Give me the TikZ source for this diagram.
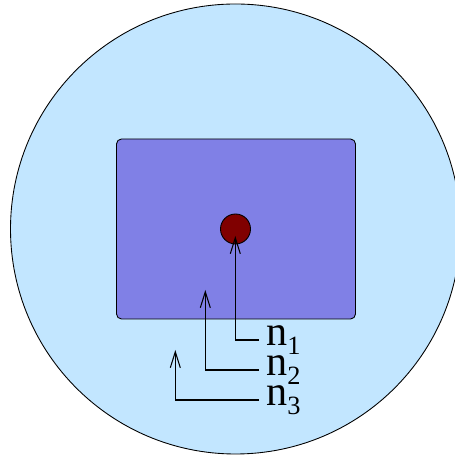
\documentclass[tikz,border=0pt]{standalone}
\usepackage{xcolor}
\usepackage{fontspec}
\usetikzlibrary{arrows.meta}

\newfontfamily\labelfont{Liberation Serif}
\newcommand{\idx}[1]{\raisebox{-0.2em}{\fontsize{15}{16}\selectfont #1}}

\definecolor{hellblau}{RGB}{194,230,255}
\definecolor{lila}{RGB}{128,128,230}
\definecolor{dunkelrot}{RGB}{128,0,0}

\begin{document}
\begin{tikzpicture}[
      x=1cm, y=1cm,
      huelle/.style={circle, draw=black, fill=hellblau, line width=0.5pt, minimum size=9cm, inner sep=0pt},
      kasten/.style={rectangle, draw=black, fill=lila, line width=0.5pt, rounded corners=0.1cm,
                     minimum width=4.78cm, minimum height=3.6cm, inner sep=0pt},
      kern/.style={circle, draw=black, fill=dunkelrot, line width=0.5pt, minimum size=0.6cm, inner sep=0pt},
      pfeil/.style={-{Straight Barb[length=3.2mm, width=2mm]}, black, line width=0.6pt},
      beschriftung/.style={font=\labelfont\fontsize{24}{28}\selectfont, anchor=base west,
                           inner sep=0pt, xshift=0.14cm, yshift=-0.12cm}
    ]
    \useasboundingbox (0,0) rectangle (9.1,9.1);
    \def\LX{5.18}  % rechtes Ende der Beschriftungslinien

    % ---------- Huelle, Kasten, Kern ----------
    \node[huelle] (huelle) at (4.71,4.52) {};
    \node[kasten] (kasten) at (4.72,4.52) {};
    \node[kern]   (kern)   at (4.71,4.52) {};

    % ---------- Pfeilspitzen und Linienenden ----------
    \coordinate (z1) at (4.706,4.38);
    \coordinate (z2) at (4.106,3.30);
    \coordinate (z3) at (3.506,2.10);
    \foreach \i/\y in {1/2.30, 2/1.70, 3/1.10}{
      \coordinate (e\i) at (\LX,\y);
      \node[beschriftung] (n\i) at (e\i) {n\idx{\i}};
    }

    % ---------- Verbindungen ----------
    \foreach \i in {1,2,3}{
      \draw[pfeil] (e\i) -| (z\i);
    }
  \end{tikzpicture}
\end{document}
